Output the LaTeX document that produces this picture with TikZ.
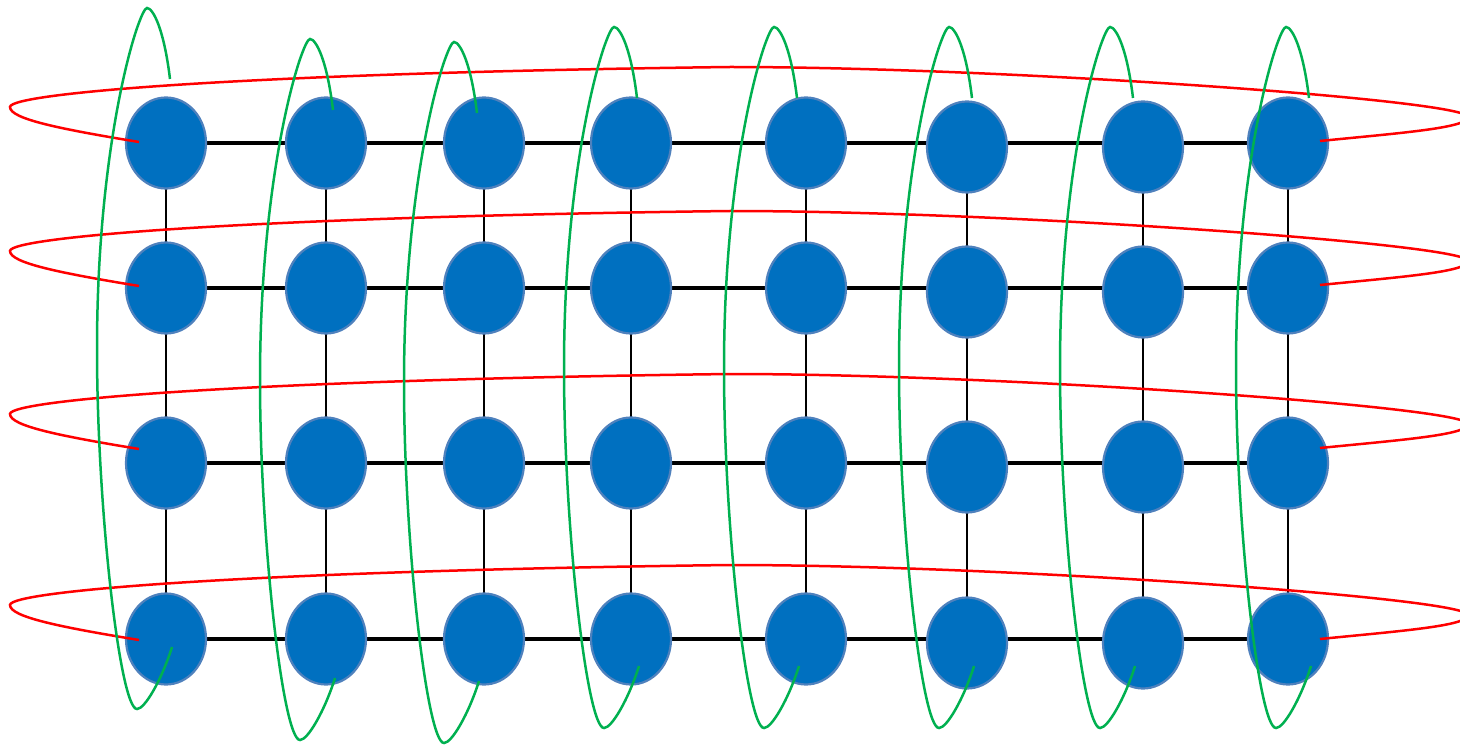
\documentclass[tikz,border=0pt]{standalone}
\usetikzlibrary{shapes.geometric}
\definecolor{nodeblue}{HTML}{0070C0}
\definecolor{nodeedge}{HTML}{4F81BD}
\definecolor{loopred}{HTML}{FF0000}
\definecolor{loopgreen}{HTML}{00B050}
\begin{document}
\begin{tikzpicture}[x=1pt,y=-1pt,
  site/.style={ellipse, fill=nodeblue, draw=nodeedge, line width=2.2pt, minimum width=80pt, minimum height=91pt, inner sep=0pt},
  hlink/.style={black, line width=3.4pt},
  vlink/.style={black, line width=2.7pt},
  rowloop/.style={loopred, line width=2.5pt},
  colloop/.style={loopgreen, line width=2.5pt}]
\useasboundingbox (0,0) rectangle (1460,746);
% grid points
\foreach \x [count=\c] in {166,326,484,631,806,967,1143,1288} {
  \foreach \y [count=\r] in {143,288,463,639} {
    \coordinate (g-\r-\c) at (\x,\y);
  }
}
% horizontal links
\foreach \r in {1,...,4} {
  \foreach \c [evaluate=\c as \n using int(\c+1)] in {1,...,7} {
    \draw[hlink] (g-\r-\c) -- (g-\r-\n);
  }
}
% vertical links
\foreach \c in {1,...,8} {
  \foreach \r [evaluate=\r as \n using int(\r+1)] in {1,...,3} {
    \draw[vlink] (g-\r-\c) -- (g-\n-\c);
  }
}
% sites
\foreach \c/\d in {1/0,2/0,3/0,4/0,5/0,6/-4,7/-4,8/0} {
  \foreach \r in {1,...,4} {
    \node[site, yshift=\d pt] (n-\r-\c) at (g-\r-\c) {};
  }
}
% row loops (red)
\foreach \b in {0,144,307,498} {
  \draw[rowloop, shift={(0,\b)}] (139,142) .. controls (60,129) and (10,119) .. (10,107)
    .. controls (10,93) and (250,73) .. (730,67)
    .. controls (1000,67) and (1468,100) .. (1468,117)
    .. controls (1468,128) and (1400,133) .. (1320,141);
}
% column loops (green)
\foreach \sx/\sy in {170/79, 333/110, 477/113, 637/98, 797/98, 972/98, 1133/98, 1309/98} {
  \draw[colloop, shift={(\sx,\sy)}] (0,0) .. controls (-6,-50) and (-17,-71) .. (-23,-71)
    .. controls (-31,-71) and (-73,60) .. (-73,270)
    .. controls (-73,430) and (-50,630) .. (-33,630)
    .. controls (-25,630) and (-8,600) .. (2,568);
}
\end{tikzpicture}
\end{document}
